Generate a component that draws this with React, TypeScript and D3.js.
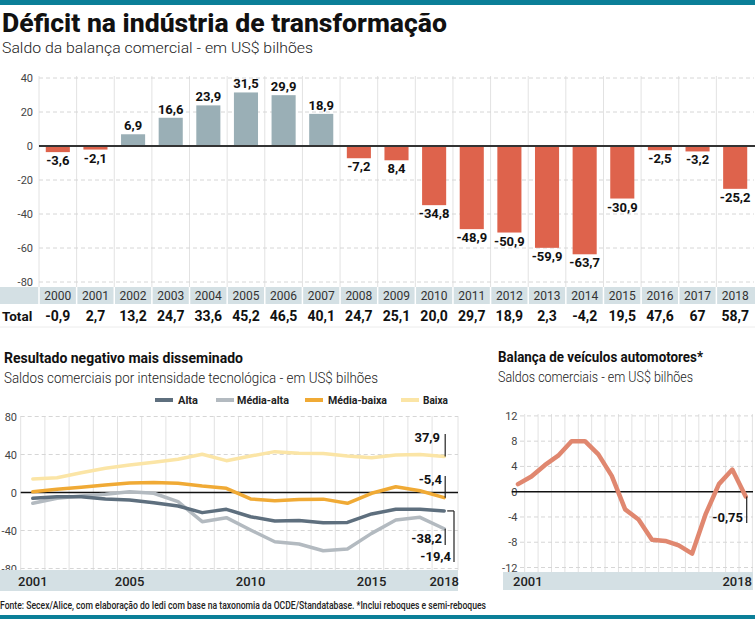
import { useEffect, useRef } from 'react';
import * as d3 from 'd3';

// Main chart: saldo da balança da indústria de transformação
const years = ['2000', '2001', '2002', '2003', '2004', '2005', '2006', '2007', '2008', '2009',
  '2010', '2011', '2012', '2013', '2014', '2015', '2016', '2017', '2018'];
const saldo = [-3.6, -2.1, 6.9, 16.6, 23.9, 31.5, 29.9, 18.9, -7.2, -8.4,
  -34.8, -48.9, -50.9, -59.9, -63.7, -30.9, -2.5, -3.2, -25.2];
const saldoLabels = ['-3,6', '-2,1', '6,9', '16,6', '23,9', '31,5', '29,9', '18,9', '-7,2', '8,4',
  '-34,8', '-48,9', '-50,9', '-59,9', '-63,7', '-30,9', '-2,5', '-3,2', '-25,2'];
const totals = ['-0,9', '2,7', '13,2', '24,7', '33,6', '45,2', '46,5', '40,1', '24,7', '25,1',
  '20,0', '29,7', '18,9', '2,3', '-4,2', '19,5', '47,6', '67', '58,7'];
const mainTicks = [40, 20, 0, -20, -40, -60, -80];

// Bottom charts
const lineYears = ['2001', '2002', '2003', '2004', '2005', '2006', '2007', '2008', '2009',
  '2010', '2011', '2012', '2013', '2014', '2015', '2016', '2017', '2018'];
const alta = [-6.1, -4.4, -4.4, -6.8, -7.9, -10.7, -14.2, -21.2, -17.7,
  -25.5, -30, -29.5, -31.8, -31.5, -22.6, -17.7, -17.7, -19.4];
const mediaAlta = [-11.4, -6.1, -3.7, -1.9, 0.8, -0.8, -9.7, -30.7, -26.5,
  -39.5, -51.8, -54.2, -61.3, -59.5, -43, -29, -26.1, -38.2];
const mediaBaixa = [0.8, 3.4, 5.5, 8, 10, 10.5, 9.8, 6.8, 4.4,
  -6.8, -8.6, -7.4, -7, -11.4, -0.8, 6.1, 1.9, -5.4];
const baixa = [14.2, 15.6, 20.8, 25.5, 29, 31.8, 35, 40.2, 33.5,
  38.4, 43, 41.2, 41, 38.4, 36.6, 39.5, 40, 37.9];
const techTicks = [80, 40, 0, -40, -80];
const techAxisYears = ['2001', '2005', '2010', '2015', '2018'];

const veiculos = [1.2, 2.4, 4.2, 5.7, 8, 8, 5.9, 2.5, -2.8,
  -4.4, -7.6, -7.8, -8.5, -9.8, -3.6, 1.2, 3.5, -0.75];
const vehTicks = [12, 8, 4, 0, -4, -8, -12];

const FONT = 'Roboto, "Noto Sans", sans-serif';
const TEAL = '#0b7f98';
const BAND = '#d4e0e4';
const POS = '#9aafb6';
const NEG = '#de634c';

export default function App() {
  const ref = useRef<SVGSVGElement>(null);

  useEffect(() => {
    if (!ref.current) return;
    const svg = d3.select(ref.current);
    svg.selectAll('*').remove();

    const text = (
      parent: any, x: number, y: number, s: string,
      size: number, weight: any = 'normal', anchor = 'start', fill = '#222', len?: number
    ) => {
      const t = parent.append('text')
        .attr('x', x).attr('y', y)
        .attr('text-anchor', anchor)
        .style('font-family', FONT)
        .style('font-size', `${size}px`)
        .style('font-weight', weight)
        .style('fill', fill)
        .text(s);
      if (len) t.attr('textLength', len).attr('lengthAdjust', 'spacingAndGlyphs');
      return t;
    };

    // teal rules
    svg.append('rect').attr('x', 0).attr('y', 0).attr('width', 755).attr('height', 5).attr('fill', TEAL);
    svg.append('rect').attr('x', 0).attr('y', 615).attr('width', 755).attr('height', 4).attr('fill', TEAL);

    // headings
    text(svg, 2, 32, 'Déficit na indústria de transformação', 25, 800, 'start', '#111', 445);
    text(svg, 2, 53, 'Saldo da balança comercial - em US$ bilhões', 15.5, 300, 'start', '#222', 311);

    // ---------- Main bar chart ----------
    const cols = d3.scaleBand<string>().domain(years).range([39, 754]);
    const bw = cols.bandwidth();
    const y = d3.scaleLinear().domain([-80, 40]).range([282, 78]);

    const main = svg.append('g');
    years.forEach((yr) => {
      main.append('line')
        .attr('x1', cols(yr)!).attr('x2', cols(yr)!)
        .attr('y1', 76).attr('y2', 287)
        .attr('stroke', '#e2e2e2').attr('stroke-width', 1);
    });
    mainTicks.filter((t) => t !== 0).forEach((t) => {
      main.append('line')
        .attr('x1', 39).attr('x2', 754)
        .attr('y1', y(t)).attr('y2', y(t))
        .attr('stroke', '#d6d6d6').attr('stroke-dasharray', '4,3');
    });
    mainTicks.forEach((t) => text(main, 33, y(t) + 4, String(t), 11, 'normal', 'end', '#444'));

    main.selectAll('.bar')
      .data(saldo)
      .enter()
      .append('rect')
      .attr('x', (_d, i) => cols(years[i])! + bw * 0.18)
      .attr('width', bw * 0.64)
      .attr('y', (d) => Math.min(y(d), y(0)))
      .attr('height', (d) => Math.abs(y(d) - y(0)))
      .attr('fill', (d) => (d >= 0 ? POS : NEG));

    saldo.forEach((d, i) => {
      const cx = cols(years[i])! + bw / 2;
      text(main, cx, d >= 0 ? y(d) - 4 : y(d) + 13, saldoLabels[i], 13, 700, 'middle', '#111');
    });

    main.append('line')
      .attr('x1', 39).attr('x2', 755)
      .attr('y1', y(0)).attr('y2', y(0))
      .attr('stroke', '#333').attr('stroke-width', 2);

    // year row + totals
    main.append('rect').attr('x', 0).attr('y', 287).attr('width', 755).attr('height', 17).attr('fill', BAND);
    years.forEach((yr, i) => {
      main.append('line')
        .attr('x1', cols(yr)!).attr('x2', cols(yr)!)
        .attr('y1', 287).attr('y2', 304)
        .attr('stroke', '#fff').attr('stroke-width', 1.5);
      text(main, cols(yr)! + bw / 2, 299.5, yr, 12, 'normal', 'middle', '#333');
      text(main, cols(yr)! + bw / 2, 321, totals[i], 14, 700, 'middle', '#111');
    });
    text(main, 2, 321, 'Total', 13.5, 700, 'start', '#111');
    main.append('line').attr('x1', 0).attr('x2', 755).attr('y1', 327).attr('y2', 327)
      .attr('stroke', '#ececec');

    // ---------- Bottom-left: intensidade tecnológica ----------
    const left = svg.append('g');
    text(left, 4, 363, 'Resultado negativo mais disseminado', 14.5, 700, 'start', '#111', 239);
    text(left, 4, 383, 'Saldos comerciais por intensidade tecnológica - em US$ bilhões', 14.5, 300, 'start', '#222', 374);

    const series = [
      { name: 'Alta', values: alta, color: '#5e6f7e', sx: 155, tx: 178, tl: 20 },
      { name: 'Média-alta', values: mediaAlta, color: '#b3bac0', sx: 216, tx: 237, tl: 52 },
      { name: 'Média-baixa', values: mediaBaixa, color: '#f0aa35', sx: 305, tx: 328, tl: 59 },
      { name: 'Baixa', values: baixa, color: '#fbe5a6', sx: 401, tx: 423, tl: 25 },
    ];
    series.forEach((s) => {
      left.append('line')
        .attr('x1', s.sx).attr('x2', s.sx + 18)
        .attr('y1', 400).attr('y2', 400)
        .attr('stroke', s.color).attr('stroke-width', 4);
      text(left, s.tx, 404, s.name, 11.5, 700, 'start', '#222', s.tl);
    });

    const colsL = d3.scaleBand<string>().domain(lineYears).range([20.7, 456.3]);
    const bwL = colsL.bandwidth();
    const xL = (yr: string) => colsL(yr)! + bwL / 2;
    const yL = d3.scaleLinear().domain([-80, 80]).range([568.5, 416.5]);

    [...lineYears.map((yr) => colsL(yr)!), 458].forEach((gx) => {
      left.append('line')
        .attr('x1', gx).attr('x2', gx).attr('y1', 416).attr('y2', 570)
        .attr('stroke', '#e2e2e2');
    });
    techTicks.filter((t) => t !== 0).forEach((t) => {
      left.append('line')
        .attr('x1', 20.7).attr('x2', 458).attr('y1', yL(t)).attr('y2', yL(t))
        .attr('stroke', '#d6d6d6').attr('stroke-dasharray', '4,3');
    });
    techTicks.forEach((t) => text(left, 17, yL(t) + 4, String(t), 11, 'normal', 'end', '#444'));

    left.append('line')
      .attr('x1', 20.7).attr('x2', 458).attr('y1', yL(0)).attr('y2', yL(0))
      .attr('stroke', '#111').attr('stroke-width', 1.5);

    const lineL = d3.line<number>()
      .x((_d, i) => xL(lineYears[i]))
      .y((d) => yL(d));
    [...series].reverse().forEach((s) => {
      left.append('path')
        .datum(s.values)
        .attr('fill', 'none')
        .attr('stroke', s.color)
        .attr('stroke-width', 3.5)
        .attr('stroke-linejoin', 'round')
        .attr('stroke-linecap', 'round')
        .attr('d', lineL);
    });

    const endX = xL('2018') + 1;
    const lastOf = (arr: number[]) => arr[arr.length - 1];
    const seg = (x1: number, y1: number, x2: number, y2: number) =>
      left.append('line').attr('x1', x1).attr('y1', y1).attr('x2', x2).attr('y2', y2)
        .attr('stroke', '#222').attr('stroke-width', 1.2);

    seg(endX, 434, endX, yL(lastOf(baixa)));
    text(left, 440, 442, '37,9', 13, 700, 'end', '#111');
    seg(endX, 476, endX, yL(lastOf(mediaBaixa)));
    text(left, 442, 484, '-5,4', 13, 700, 'end', '#111');
    seg(endX, yL(lastOf(mediaAlta)), endX, 545);
    text(left, 442, 543, '-38,2', 13, 700, 'end', '#111');
    seg(endX + 2, yL(lastOf(alta)), 454, yL(lastOf(alta)));
    seg(454, yL(lastOf(alta)), 454, 562);
    text(left, 451, 561, '-19,4', 13, 700, 'end', '#111');

    left.append('rect').attr('x', 0).attr('y', 570).attr('width', 458).attr('height', 21).attr('fill', BAND);
    techAxisYears.forEach((yr) => text(left, xL(yr), 586, yr, 13, 500, 'middle', '#222'));

    // ---------- Bottom-right: veículos ----------
    const right = svg.append('g');
    text(right, 498, 362, 'Balança de veículos automotores*', 14.5, 700, 'start', '#111', 205);
    text(right, 498, 382, 'Saldos comerciais - em US$ bilhões', 14.5, 300, 'start', '#222', 195);

    const colsR = d3.scaleBand<string>().domain(lineYears).range([511.3, 752.4]);
    const bwR = colsR.bandwidth();
    const xR = (yr: string) => colsR(yr)! + bwR / 2;
    const yR = d3.scaleLinear().domain([-12, 12]).range([567.5, 415.9]);

    lineYears.slice(1).forEach((yr) => {
      right.append('line')
        .attr('x1', colsR(yr)!).attr('x2', colsR(yr)!).attr('y1', 414).attr('y2', 572)
        .attr('stroke', '#e2e2e2');
    });
    right.append('line').attr('x1', 752.4).attr('x2', 752.4).attr('y1', 414).attr('y2', 572)
      .attr('stroke', '#e2e2e2');
    vehTicks.filter((t) => t !== 0).forEach((t) => {
      right.append('line')
        .attr('x1', 520).attr('x2', 753).attr('y1', yR(t)).attr('y2', yR(t))
        .attr('stroke', '#d6d6d6').attr('stroke-dasharray', '4,3');
    });
    vehTicks.forEach((t) => text(right, 517.5, yR(t) + 4, String(t), 11, 'normal', 'end', '#444'));

    right.append('line')
      .attr('x1', 511.7).attr('x2', 753).attr('y1', yR(0)).attr('y2', yR(0))
      .attr('stroke', '#111').attr('stroke-width', 1.5);

    const lineR = d3.line<number>()
      .x((_d, i) => xR(lineYears[i]))
      .y((d) => yR(d));
    right.append('path')
      .datum(veiculos)
      .attr('fill', 'none')
      .attr('stroke', '#e0876f')
      .attr('stroke-width', 4.5)
      .attr('stroke-linejoin', 'round')
      .attr('stroke-linecap', 'round')
      .attr('d', lineR);

    const vx = xR('2018') + 1;
    right.append('line').attr('x1', vx).attr('x2', vx)
      .attr('y1', yR(lastOf(veiculos))).attr('y2', 523)
      .attr('stroke', '#222').attr('stroke-width', 1.2);
    text(right, 743, 522, '-0,75', 13, 700, 'end', '#111');

    right.append('rect').attr('x', 503).attr('y', 572).attr('width', 250).attr('height', 18).attr('fill', BAND);
    text(right, 513, 586, '2001', 13, 500, 'start', '#222');
    text(right, 752, 586, '2018', 13, 500, 'end', '#222');

    // footnote
    text(svg, 0, 609,
      'Fonte: Secex/Alice, com elaboração do Iedi com base na taxonomia da OCDE/Standatabase. *Inclui reboques e semi-reboques',
      10, 500, 'start', '#222', 486);
  }, []);

  return (
    <svg
      ref={ref}
      width={755}
      height={619}
      viewBox="0 0 755 619"
      style={{ position: 'absolute', left: 0, top: 0, background: '#fff' }}
    />
  );
}
